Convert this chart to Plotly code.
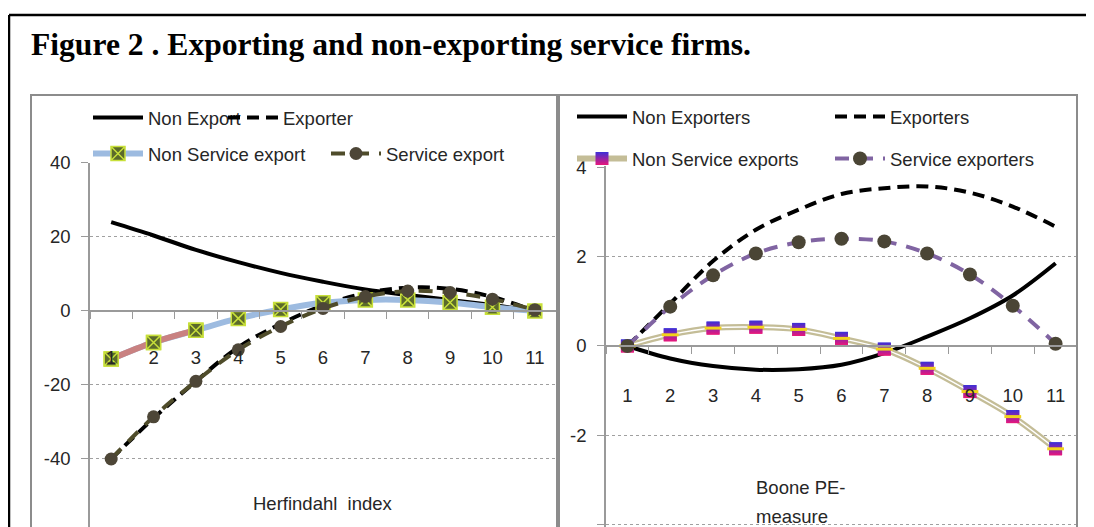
import plotly.graph_objects as go

# page body has an 8px margin: the figure is drawn at (8, 8) in the window
OFF = 8
W, H = 1094 - OFF, 527 - OFF

# ---------------- data ----------------
categories = ["1", "2", "3", "4", "5", "6", "7", "8", "9", "10", "11"]

# Left panel: Herfindahl index
herf_non_export = [24.0, 20.4, 16.5, 13.2, 10.3, 7.9, 5.8, 4.3, 3.0, 1.6, 0.0]
herf_exporter = [-40.0, -29.0, -19.0, -9.8, -3.5, 1.5, 4.8, 6.3, 6.0, 3.8, 0.0]
herf_non_service = [-13.0, -8.5, -5.2, -2.0, 0.4, 2.2, 3.0, 3.0, 2.3, 1.0, 0.0]
herf_service = [-40.0, -28.6, -19.0, -10.5, -4.2, 0.7, 3.9, 5.4, 5.0, 3.2, 0.3]

# Right panel: Boone PE-measure
boone_non_exporters = [0.0, -0.28, -0.45, -0.53, -0.52, -0.42, -0.16, 0.21, 0.62, 1.13, 1.85]
boone_exporters = [0.0, 0.95, 1.9, 2.6, 3.05, 3.4, 3.53, 3.57, 3.43, 3.12, 2.67]
boone_non_service = [0.0, 0.25, 0.4, 0.42, 0.37, 0.17, -0.07, -0.5, -1.02, -1.58, -2.3]
boone_service = [0.0, 0.88, 1.58, 2.07, 2.32, 2.4, 2.34, 2.07, 1.6, 0.9, 0.05]

left_yticks = [-40, -20, 0, 20, 40]
left_yticklabels = ["-40", "-20", "0", "20", "40"]
right_yticks = [-4, -2, 0, 2, 4]
right_yticklabels = ["-4", "-2", "0", "2", "4"]

title_text = "Figure 2 . Exporting and non-exporting service firms."

# ---------------- style ----------------
FONT = "Liberation Sans, Arial, sans-serif"
TXT = "#262626"
AX = "#9a9a9a"
FS = 18.5


def px_x(p):
    return (p - OFF) / W


def px_y(p):
    return 1 - (p - OFF) / H


# left plot geometry (window pixels)
L_X0, L_X1 = 90, 556
L_Y_RANGE = [-58.38, 40.1]
L_TOP = 162.6
# right plot geometry
R_X0, R_X1 = 606, 1077
R_Y_RANGE = [-4.05, 4.02]
R_TOP = 166.3

l_dom = [px_y(527), px_y(L_TOP)]
r_dom = [px_y(527), px_y(R_TOP)]


def zero_pos(dom, rng):
    return dom[0] + (0 - rng[0]) / (rng[1] - rng[0]) * (dom[1] - dom[0])


fig = go.Figure()

# ---- left panel traces ----
fig.add_trace(go.Scatter(
    x=categories, y=herf_non_export, name="Non Export", mode="lines",
    line=dict(color="black", width=4, shape="spline"),
    xaxis="x", yaxis="y", legend="legend"))
fig.add_trace(go.Scatter(
    x=categories, y=herf_exporter, name="Exporter", mode="lines",
    line=dict(color="black", width=4, dash="12px,7px", shape="spline"),
    xaxis="x", yaxis="y", legend="legend"))
fig.add_trace(go.Scatter(
    x=categories, y=herf_non_service, name="Non Service export", mode="lines+markers",
    line=dict(color="#9dbbe0", width=6, shape="spline"),
    marker=dict(symbol="square-x", size=14, color="#5b6a2b",
                line=dict(color="#c8e03a", width=1.5)),
    xaxis="x", yaxis="y", legend="legend2"))
fig.add_trace(go.Scatter(
    x=categories[:3], y=herf_non_service[:3], mode="lines", showlegend=False,
    line=dict(color="#c98181", width=6, shape="spline"),
    xaxis="x", yaxis="y", hoverinfo="skip"))
fig.add_trace(go.Scatter(
    x=categories[:3], y=herf_non_service[:3], mode="markers", showlegend=False,
    marker=dict(symbol="square-x", size=14, color="#5b6a2b",
                line=dict(color="#c8e03a", width=1.5)),
    xaxis="x", yaxis="y", hoverinfo="skip"))
fig.add_trace(go.Scatter(
    x=categories, y=herf_service, name="Service export", mode="lines+markers",
    line=dict(color="#4f4c2a", width=4, dash="14px,10px", shape="spline"),
    marker=dict(symbol="circle", size=13, color="#4d4637"),
    xaxis="x", yaxis="y", legend="legend2"))

# ---- right panel traces ----
fig.add_trace(go.Scatter(
    x=categories, y=boone_non_exporters, name="Non Exporters", mode="lines",
    line=dict(color="black", width=4, shape="spline"),
    xaxis="x2", yaxis="y2", legend="legend3"))
fig.add_trace(go.Scatter(
    x=categories, y=boone_exporters, name="Exporters", mode="lines",
    line=dict(color="black", width=4, dash="12px,7px", shape="spline"),
    xaxis="x2", yaxis="y2", legend="legend3"))
fig.add_trace(go.Scatter(
    x=categories, y=boone_non_service, name="Non Service exports", mode="lines+markers",
    line=dict(color="#c4bd97", width=6, shape="spline"),
    marker=dict(symbol="square", size=13, color="#3c2fd6",
                gradient=dict(type="vertical", color="#e8177a")),
    xaxis="x2", yaxis="y2", legend="legend4"))
fig.add_trace(go.Scatter(
    x=categories, y=boone_non_service, mode="lines", showlegend=False,
    line=dict(color="white", width=1.5, shape="spline"),
    xaxis="x2", yaxis="y2", hoverinfo="skip"))
fig.add_trace(go.Scatter(
    x=categories, y=boone_non_service, mode="markers", showlegend=False,
    marker=dict(symbol="square", size=13, color="#3c2fd6",
                gradient=dict(type="vertical", color="#e8177a")),
    xaxis="x2", yaxis="y2", hoverinfo="skip"))
fig.add_trace(go.Scatter(
    x=categories, y=boone_non_service, mode="markers", showlegend=False,
    marker=dict(symbol="line-ew", size=12, line=dict(color="#f2d21b", width=3)),
    xaxis="x2", yaxis="y2", hoverinfo="skip"))
fig.add_trace(go.Scatter(
    x=categories, y=boone_service, name="Service exporters", mode="lines+markers",
    line=dict(color="#8064a2", width=4, dash="14px,10px", shape="spline"),
    marker=dict(symbol="circle", size=14, color="#4a4535"),
    xaxis="x2", yaxis="y2", legend="legend4"))

tickfont = dict(family=FONT, size=FS, color=TXT)


def xaxis_cfg(x0, x1, pos, standoff):
    return dict(domain=[px_x(x0), px_x(x1)], type="category", range=[-0.5, 10.5],
                anchor="free", position=pos, showline=True, linecolor=AX, linewidth=1.5,
                ticks="outside", ticklen=7, tickwidth=1.2, tickcolor=AX, tickson="boundaries",
                showgrid=False, zeroline=False, tickfont=tickfont, ticklabelstandoff=standoff,
                automargin=False, fixedrange=True)


def yaxis_cfg(anchor, dom, rng, vals, texts):
    return dict(domain=dom, range=rng, anchor=anchor, side="left", showline=True,
                linecolor=AX, linewidth=1.5, ticks="outside", ticklen=7, tickwidth=1.2,
                tickcolor=AX, tickmode="array", tickvals=vals, ticktext=texts,
                showgrid=True, gridcolor="#a0a0a0", griddash="dot", gridwidth=1,
                zeroline=False, tickfont=tickfont, ticklabelstandoff=7,
                automargin=False, fixedrange=True)


leg_common = dict(orientation="h", bgcolor="rgba(0,0,0,0)", borderwidth=0,
                  font=dict(family=FONT, size=FS, color=TXT), itemwidth=50,
                  xanchor="left", yanchor="middle", itemclick=False,
                  itemdoubleclick=False, entrywidthmode="pixels")

shapes = [
    # outer black frame
    dict(type="line", xref="paper", yref="paper", x0=px_x(9), x1=1.02,
         y0=px_y(15), y1=px_y(15), line=dict(color="black", width=2.5)),
    dict(type="line", xref="paper", yref="paper", x0=px_x(9), x1=px_x(9),
         y0=px_y(15), y1=-0.05, line=dict(color="black", width=2.5)),
    # panel borders
    dict(type="rect", xref="paper", yref="paper", x0=px_x(31), x1=px_x(557),
         y0=-0.05, y1=px_y(95), line=dict(color="#8c8c8c", width=2)),
    dict(type="rect", xref="paper", yref="paper", x0=px_x(559), x1=px_x(1077),
         y0=-0.05, y1=px_y(95), line=dict(color="#8c8c8c", width=2)),
]

annotations = [
    dict(text="<b>" + title_text + "</b>", x=px_x(29), y=px_y(45), xref="paper", yref="paper",
         xanchor="left", yanchor="middle", showarrow=False,
         font=dict(family="Liberation Serif, Times New Roman, serif", size=31.6, color="black")),
    dict(text="Herfindahl&nbsp; index", x=px_x(323), y=px_y(503), xref="paper", yref="paper",
         xanchor="center", yanchor="middle", showarrow=False,
         font=dict(family=FONT, size=FS, color=TXT)),
    dict(text="Boone PE-", x=px_x(754), y=px_y(487), xref="paper", yref="paper",
         xanchor="left", yanchor="middle", showarrow=False,
         font=dict(family=FONT, size=FS, color=TXT)),
    dict(text="measure", x=px_x(754), y=px_y(516), xref="paper", yref="paper",
         xanchor="left", yanchor="middle", showarrow=False,
         font=dict(family=FONT, size=FS, color=TXT)),
    dict(text="-60", x=px_x(72), y=px_y(535), xref="paper", yref="paper",
         xanchor="right", yanchor="middle", showarrow=False,
         font=dict(family=FONT, size=FS, color=TXT)),
]

fig.update_layout(
    width=W, height=H, autosize=False,
    margin=dict(l=0, r=0, t=0, b=0, pad=0),
    paper_bgcolor="white", plot_bgcolor="white",
    xaxis=xaxis_cfg(L_X0, L_X1, zero_pos(l_dom, L_Y_RANGE), 30),
    yaxis=yaxis_cfg("x", l_dom, L_Y_RANGE, left_yticks, left_yticklabels),
    xaxis2=xaxis_cfg(R_X0, R_X1, zero_pos(r_dom, R_Y_RANGE), 33),
    yaxis2=yaxis_cfg("x2", r_dom, R_Y_RANGE, right_yticks, right_yticklabels),
    legend=dict(**leg_common, x=px_x(88), y=px_y(118), entrywidth=70),
    legend2=dict(**leg_common, x=px_x(88), y=px_y(154), entrywidth=173),
    legend3=dict(**leg_common, x=px_x(572), y=px_y(117), entrywidth=193),
    legend4=dict(**leg_common, x=px_x(572), y=px_y(159), entrywidth=193),
    shapes=shapes,
    annotations=annotations,
    showlegend=True,
)

fig.write_html("out.html", config={"displayModeBar": False})
